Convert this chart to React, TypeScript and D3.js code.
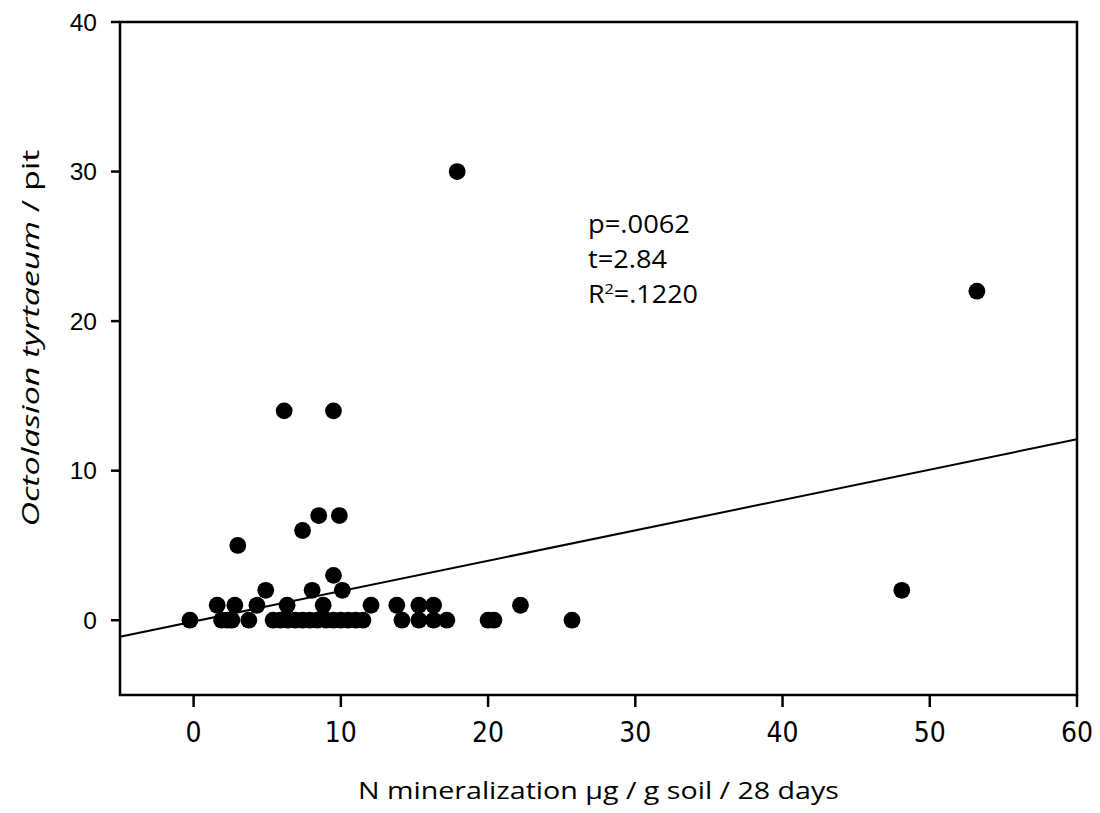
import React from "react";
import * as d3 from "d3";

// N mineralization (x) vs. Octolasion tyrtaeum per pit (y)
const nMin = [
  -0.25, 1.6, 2.8, 4.3, 6.35, 8.8, 12.05, 13.8, 15.3, 16.3, 22.2,
  1.9, 2.3, 2.6, 3.75, 5.4, 5.9, 6.4, 6.9, 7.4, 7.9, 8.4, 9.0, 9.5, 10.0, 10.5, 11.0, 11.5,
  14.15, 15.3, 16.3, 17.2, 20.0, 20.4, 25.7,
  4.9, 8.05, 10.1, 9.5, 3.0, 7.4, 8.5, 9.9, 6.15, 9.5, 17.9, 53.2, 48.1,
];
const worms = [
  0, 1, 1, 1, 1, 1, 1, 1, 1, 1, 1,
  0, 0, 0, 0, 0, 0, 0, 0, 0, 0, 0, 0, 0, 0, 0, 0, 0,
  0, 0, 0, 0, 0, 0, 0,
  2, 2, 2, 3, 5, 6, 7, 7, 14, 14, 30, 22, 2,
];

// fitted line endpoints
const fitX = [-5, 60];
const fitY = [-1.1, 12.1];

const xTicks = [0, 10, 20, 30, 40, 50, 60];
const yTicks = [0, 10, 20, 30, 40];
const statsLines = [
  { text: "p=.0062", w: 102 },
  { text: "t=2.84", w: 79 },
];

const W = 1100;
const H = 813;
const margin = { top: 22, right: 23, bottom: 118, left: 120 };

export default function App() {
  const x = d3.scaleLinear().domain([-5, 60]).range([margin.left, W - margin.right]);
  const y = d3.scaleLinear().domain([-5, 40]).range([H - margin.bottom, margin.top]);

  const pts = nMin.map((v, i) => ({ x: v, y: worms[i] }));
  const line = d3
    .line<number>()
    .x((d) => x(d))
    .y((_, i) => y(fitY[i]));

  const x0 = margin.left;
  const x1 = W - margin.right;
  const y0 = H - margin.bottom;
  const y1 = margin.top;
  const txtFont = "'Open Sans', 'Noto Sans', sans-serif";

  return (
    <svg
      width={W}
      height={H}
      style={{ position: "absolute", left: 0, top: 0, background: "#fff" }}
    >
      {/* regression line */}
      <path d={line(fitX) || ""} fill="none" stroke="#000" strokeWidth={2} />

      {/* points */}
      {pts.map((d, i) => (
        <circle key={i} cx={x(d.x)} cy={y(d.y)} r={8.4} fill="#000" />
      ))}

      {/* frame */}
      <rect
        x={x0}
        y={y1}
        width={x1 - x0}
        height={y0 - y1}
        fill="none"
        stroke="#000"
        strokeWidth={2.5}
      />

      {/* y ticks */}
      {yTicks.map((t) => (
        <g key={"y" + t}>
          <line x1={x0 - 9} x2={x0} y1={y(t)} y2={y(t)} stroke="#000" strokeWidth={2.5} />
          <text
            x={97}
            y={y(t)}
            dy="0.36em"
            textAnchor="end"
            fontFamily="'Liberation Sans', Arial, sans-serif"
            fontSize={24.5}
          >
            {t}
          </text>
        </g>
      ))}

      {/* x ticks */}
      {xTicks.map((t) => (
        <g key={"x" + t}>
          <line x1={x(t)} x2={x(t)} y1={y0} y2={y0 + 12} stroke="#000" strokeWidth={2.5} />
          <text
            x={x(t)}
            y={742}
            textAnchor="middle"
            fontFamily="'Liberation Sans Narrow', 'DejaVu Sans Condensed', sans-serif"
            fontSize={28}
          >
            {t}
          </text>
        </g>
      ))}

      {/* axis titles */}
      <text
        x={(x0 + x1) / 2}
        y={799}
        textAnchor="middle"
        fontFamily={txtFont}
        fontSize={23}
        textLength={481}
        lengthAdjust="spacingAndGlyphs"
      >
        N mineralization µg / g soil / 28 days
      </text>
      <text
        transform={`translate(39, 338) rotate(-90)`}
        textAnchor="middle"
        fontFamily={txtFont}
        fontSize={24}
        textLength={377}
        lengthAdjust="spacingAndGlyphs"
      >
        <tspan fontStyle="italic">Octolasion tyrtaeum</tspan>
        <tspan> / pit</tspan>
      </text>

      {/* stats annotation */}
      {statsLines.map((s, i) => (
        <text
          key={s.text}
          x={588}
          y={233 + i * 35}
          fontFamily={txtFont}
          fontSize={25}
          textLength={s.w}
          lengthAdjust="spacingAndGlyphs"
        >
          {s.text}
        </text>
      ))}
      <text
        x={588}
        y={303}
        fontFamily={txtFont}
        fontSize={25}
        textLength={110}
        lengthAdjust="spacingAndGlyphs"
      >
        R<tspan fontSize={15} dy={-9}>2</tspan>
        <tspan dy={9}>=.1220</tspan>
      </text>
    </svg>
  );
}
